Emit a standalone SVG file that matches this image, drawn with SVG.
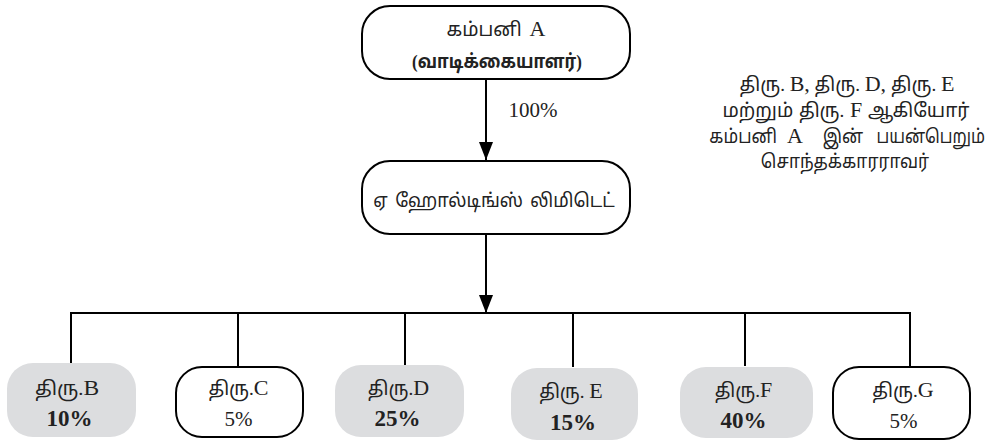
<svg xmlns="http://www.w3.org/2000/svg" width="989" height="442" viewBox="0 0 989 442">
<defs>
<style>
.box{fill:#fff;stroke:#000;stroke-width:2}
.gbox{fill:#dcdddf;stroke:none}
.ln{fill:none;stroke:#000;stroke-width:2}
text{font-family:"Liberation Serif","Noto Sans Tamil","Noto Serif Tamil",serif;fill:#222;text-anchor:middle}
.t{font-size:19px}
.p{font-size:21px}
.b{font-size:23px;font-weight:bold}
.L{font-size:22px}
.e{text-anchor:end}
</style>
<marker id="ah" markerWidth="18" markerHeight="14" refX="18" refY="7" orient="auto" markerUnits="userSpaceOnUse">
<path d="M0,0 L18,7 L0,14 Z" fill="#000"/>
</marker>
</defs>
<g id="connectors">
<line class="ln" x1="486" y1="80" x2="486" y2="160" marker-end="url(#ah)"/>
<line class="ln" x1="486" y1="234" x2="486" y2="313" marker-end="url(#ah)"/>
<polyline class="ln" points="71,364 71,313 910,313 910,366"/>
<line class="ln" x1="238" y1="313" x2="238" y2="367"/>
<line class="ln" x1="405" y1="313" x2="405" y2="366"/>
<line class="ln" x1="573" y1="313" x2="573" y2="367"/>
<line class="ln" x1="745" y1="313" x2="745" y2="366"/>
<text class="p" x="533" y="117">100%</text>
</g>
<g id="companyA">
<rect class="box" x="362" y="6" width="268" height="73" rx="28"/>
<text class="t" x="496" y="36" word-spacing="3">கம்பனி <tspan class="L">A</tspan></text>
<text class="t" transform="translate(497,68) scale(0.89,1)" font-size="18" font-weight="bold">(வாடிக்கையாளர்)</text>
</g>
<g id="holdings">
<rect class="box" x="362" y="161" width="268" height="73" rx="28"/>
<text class="t" transform="translate(494,207) scale(0.95,1)" word-spacing="3">ஏ ஹோல்டிங்ஸ் லிமிடெட்</text>
</g>
<g id="note">
<text class="t" x="847" y="91">திரு. <tspan class="L">B,</tspan> திரு. <tspan class="L">D,</tspan> திரு. <tspan class="L">E</tspan></text>
<text class="t" x="846" y="117" word-spacing="1">மற்றும் திரு. <tspan class="L">F</tspan> ஆகியோர்</text>
<text class="t e" transform="translate(777,143) scale(0.9,1)">கம்பனி</text>
<text class="L e" x="803" y="143">A</text>
<text class="t e" transform="translate(863,143) scale(0.9,1)">இன்</text>
<text class="t e" transform="translate(985,143) scale(0.86,1)">பயன்பெறும்</text>
<text class="t" transform="translate(845,168) scale(0.91,1)">சொந்தக்காரராவர்</text>
</g>
<g id="mrB">
<rect class="gbox" x="7" y="363" width="129" height="74" rx="26"/>
<text class="t" transform="translate(67,395) scale(1.07,1)">திரு.<tspan class="L">B</tspan></text>
<text class="b" x="69.5" y="426">10%</text>
</g>
<g id="mrC">
<rect class="box" x="176" y="367" width="127" height="70" rx="26"/>
<text class="t" x="238.5" y="395">திரு.<tspan class="L">C</tspan></text>
<text class="p" x="238.5" y="426">5%</text>
</g>
<g id="mrD">
<rect class="gbox" x="335" y="365" width="129" height="72" rx="26"/>
<text class="t" x="398.5" y="395">திரு.<tspan class="L">D</tspan></text>
<text class="b" x="397.5" y="426">25%</text>
</g>
<g id="mrE">
<rect class="gbox" x="511" y="368" width="127" height="72" rx="26"/>
<text class="t" x="571" y="398">திரு. <tspan class="L">E</tspan></text>
<text class="b" x="573" y="430">15%</text>
</g>
<g id="mrF">
<rect class="gbox" x="680" y="367" width="133" height="71" rx="26"/>
<text class="t" x="743.5" y="397">திரு.<tspan class="L">F</tspan></text>
<text class="b" x="743.5" y="428">40%</text>
</g>
<g id="mrG">
<rect class="box" x="833" y="367" width="137" height="72" rx="26"/>
<text class="t" x="903" y="397">திரு.<tspan class="L">G</tspan></text>
<text class="p" x="903.5" y="428">5%</text>
</g>
</svg>
